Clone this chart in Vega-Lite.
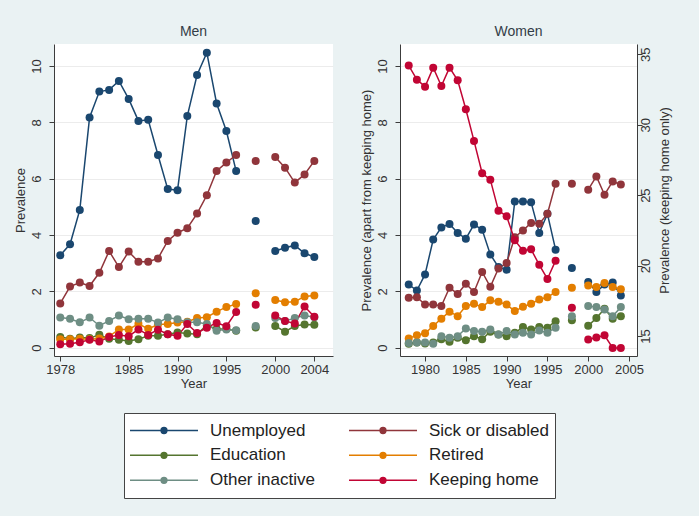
{
  "$schema": "https://vega.github.io/schema/vega-lite/v6.json",
  "background": "#eaf2f3",
  "padding": {"left": 13, "top": 25, "right": 28, "bottom": 20},
  "config": {
    "font": "Liberation Sans",
    "view": {"fill": "white", "stroke": null},
    "axis": {
      "domainColor": "#3c3c3c", "tickColor": "#3c3c3c", "tickSize": 5, "domainWidth": 1, "tickWidth": 1,
      "labelFontSize": 13, "titleFontSize": 13, "labelColor": "#333333", "titleColor": "#333333",
      "titleFontWeight": "normal", "gridColor": "#ececec", "gridWidth": 1,
      "labelFont": "Liberation Sans", "titleFont": "Liberation Sans"
    },
    "axisX": {"grid": false, "labelPadding": 2, "titlePadding": 1, "labelFlush": false},
    "axisY": {"grid": true, "labelAngle": -90, "labelAlign": "center", "labelPadding": 6, "titlePadding": 3},
    "title": {"fontSize": 14, "font": "Liberation Sans", "fontWeight": "normal", "color": "#333d47", "offset": 5},
    "legend": {"labelFont": "Liberation Sans"}
  },
  "datasets": {
    "men": [
      {"year": 1978, "Unemployed": 3.28, "Sick or disabled": 1.57, "Education": 0.38, "Retired": 0.30, "Other inactive": 1.07, "Keeping home": 0.12},
      {"year": 1979, "Unemployed": 3.67, "Sick or disabled": 2.17, "Education": 0.32, "Retired": 0.30, "Other inactive": 1.03, "Keeping home": 0.14},
      {"year": 1980, "Unemployed": 4.89, "Sick or disabled": 2.31, "Education": 0.36, "Retired": 0.32, "Other inactive": 0.90, "Keeping home": 0.19},
      {"year": 1981, "Unemployed": 8.17, "Sick or disabled": 2.19, "Education": 0.34, "Retired": 0.30, "Other inactive": 1.07, "Keeping home": 0.28},
      {"year": 1982, "Unemployed": 9.09, "Sick or disabled": 2.66, "Education": 0.46, "Retired": 0.33, "Other inactive": 0.78, "Keeping home": 0.22},
      {"year": 1983, "Unemployed": 9.15, "Sick or disabled": 3.43, "Education": 0.32, "Retired": 0.40, "Other inactive": 0.95, "Keeping home": 0.38},
      {"year": 1984, "Unemployed": 9.47, "Sick or disabled": 2.86, "Education": 0.28, "Retired": 0.65, "Other inactive": 1.14, "Keeping home": 0.45},
      {"year": 1985, "Unemployed": 8.83, "Sick or disabled": 3.41, "Education": 0.24, "Retired": 0.65, "Other inactive": 1.01, "Keeping home": 0.41},
      {"year": 1986, "Unemployed": 8.05, "Sick or disabled": 3.05, "Education": 0.30, "Retired": 0.85, "Other inactive": 1.03, "Keeping home": 0.65},
      {"year": 1987, "Unemployed": 8.09, "Sick or disabled": 3.05, "Education": 0.42, "Retired": 0.67, "Other inactive": 1.03, "Keeping home": 0.45},
      {"year": 1988, "Unemployed": 6.84, "Sick or disabled": 3.17, "Education": 0.42, "Retired": 0.82, "Other inactive": 0.89, "Keeping home": 0.64},
      {"year": 1989, "Unemployed": 5.63, "Sick or disabled": 3.79, "Education": 0.48, "Retired": 0.84, "Other inactive": 1.07, "Keeping home": 0.48},
      {"year": 1990, "Unemployed": 5.59, "Sick or disabled": 4.08, "Education": 0.54, "Retired": 0.89, "Other inactive": 1.01, "Keeping home": 0.42},
      {"year": 1991, "Unemployed": 8.22, "Sick or disabled": 4.24, "Education": 0.50, "Retired": 0.92, "Other inactive": 0.90, "Keeping home": 0.84},
      {"year": 1992, "Unemployed": 9.68, "Sick or disabled": 4.76, "Education": 0.48, "Retired": 1.05, "Other inactive": 0.90, "Keeping home": 0.52},
      {"year": 1993, "Unemployed": 10.47, "Sick or disabled": 5.41, "Education": 0.80, "Retired": 1.08, "Other inactive": 0.84, "Keeping home": 0.71},
      {"year": 1994, "Unemployed": 8.67, "Sick or disabled": 6.27, "Education": 0.66, "Retired": 1.28, "Other inactive": 0.60, "Keeping home": 0.88},
      {"year": 1995, "Unemployed": 7.69, "Sick or disabled": 6.57, "Education": 0.66, "Retired": 1.44, "Other inactive": 0.65, "Keeping home": 0.76},
      {"year": 1996, "Unemployed": 6.27, "Sick or disabled": 6.84, "Education": 0.60, "Retired": 1.55, "Other inactive": 0.62, "Keeping home": 1.27},
      {"year": 1997, "Unemployed": null, "Sick or disabled": null, "Education": null, "Retired": null, "Other inactive": null, "Keeping home": null},
      {"year": 1998, "Unemployed": 4.50, "Sick or disabled": 6.63, "Education": 0.72, "Retired": 1.93, "Other inactive": 0.77, "Keeping home": 1.52},
      {"year": 1999, "Unemployed": null, "Sick or disabled": null, "Education": null, "Retired": null, "Other inactive": null, "Keeping home": null},
      {"year": 2000, "Unemployed": 3.43, "Sick or disabled": 6.77, "Education": 0.77, "Retired": 1.69, "Other inactive": 1.05, "Keeping home": 1.14},
      {"year": 2001, "Unemployed": 3.55, "Sick or disabled": 6.39, "Education": 0.57, "Retired": 1.61, "Other inactive": 0.95, "Keeping home": 0.95},
      {"year": 2002, "Unemployed": 3.63, "Sick or disabled": 5.86, "Education": 0.77, "Retired": 1.63, "Other inactive": 1.05, "Keeping home": 0.86},
      {"year": 2003, "Unemployed": 3.35, "Sick or disabled": 6.15, "Education": 0.82, "Retired": 1.82, "Other inactive": 1.14, "Keeping home": 1.46},
      {"year": 2004, "Unemployed": 3.22, "Sick or disabled": 6.63, "Education": 0.81, "Retired": 1.85, "Other inactive": 1.08, "Keeping home": 1.10}
    ],
    "women": [
      {"year": 1978, "Unemployed": 2.24, "Sick or disabled": 1.77, "Education": 0.14, "Retired": 0.33, "Other inactive": 0.17, "Keeping home": 34.2},
      {"year": 1979, "Unemployed": 2.03, "Sick or disabled": 1.79, "Education": 0.18, "Retired": 0.44, "Other inactive": 0.18, "Keeping home": 33.2},
      {"year": 1980, "Unemployed": 2.60, "Sick or disabled": 1.53, "Education": 0.15, "Retired": 0.51, "Other inactive": 0.18, "Keeping home": 32.7},
      {"year": 1981, "Unemployed": 3.84, "Sick or disabled": 1.53, "Education": 0.18, "Retired": 0.77, "Other inactive": 0.14, "Keeping home": 34.05},
      {"year": 1982, "Unemployed": 4.27, "Sick or disabled": 1.48, "Education": 0.30, "Retired": 1.03, "Other inactive": 0.41, "Keeping home": 32.75},
      {"year": 1983, "Unemployed": 4.39, "Sick or disabled": 2.13, "Education": 0.21, "Retired": 1.28, "Other inactive": 0.35, "Keeping home": 34.05},
      {"year": 1984, "Unemployed": 4.07, "Sick or disabled": 1.91, "Education": 0.35, "Retired": 1.12, "Other inactive": 0.41, "Keeping home": 33.15},
      {"year": 1985, "Unemployed": 3.87, "Sick or disabled": 2.27, "Education": 0.26, "Retired": 1.48, "Other inactive": 0.68, "Keeping home": 31.1},
      {"year": 1986, "Unemployed": 4.37, "Sick or disabled": 1.98, "Education": 0.41, "Retired": 1.56, "Other inactive": 0.59, "Keeping home": 28.85},
      {"year": 1987, "Unemployed": 4.19, "Sick or disabled": 2.69, "Education": 0.30, "Retired": 1.44, "Other inactive": 0.57, "Keeping home": 26.55},
      {"year": 1988, "Unemployed": 3.31, "Sick or disabled": 2.16, "Education": 0.57, "Retired": 1.68, "Other inactive": 0.65, "Keeping home": 26.1},
      {"year": 1989, "Unemployed": 2.86, "Sick or disabled": 2.81, "Education": 0.47, "Retired": 1.63, "Other inactive": 0.47, "Keeping home": 23.9},
      {"year": 1990, "Unemployed": 2.77, "Sick or disabled": 3.01, "Education": 0.41, "Retired": 1.53, "Other inactive": 0.59, "Keeping home": 23.5},
      {"year": 1991, "Unemployed": 5.19, "Sick or disabled": 3.92, "Education": 0.53, "Retired": 1.30, "Other inactive": 0.47, "Keeping home": 21.8},
      {"year": 1992, "Unemployed": 5.19, "Sick or disabled": 4.16, "Education": 0.73, "Retired": 1.45, "Other inactive": 0.53, "Keeping home": 21.05},
      {"year": 1993, "Unemployed": 5.16, "Sick or disabled": 4.43, "Education": 0.65, "Retired": 1.56, "Other inactive": 0.47, "Keeping home": 21.15},
      {"year": 1994, "Unemployed": 4.07, "Sick or disabled": 4.40, "Education": 0.73, "Retired": 1.71, "Other inactive": 0.61, "Keeping home": 20.05},
      {"year": 1995, "Unemployed": 4.75, "Sick or disabled": 4.75, "Education": 0.71, "Retired": 1.79, "Other inactive": 0.53, "Keeping home": 19.05},
      {"year": 1996, "Unemployed": 3.48, "Sick or disabled": 5.82, "Education": 0.94, "Retired": 1.98, "Other inactive": 0.71, "Keeping home": 20.35},
      {"year": 1997, "Unemployed": null, "Sick or disabled": null, "Education": null, "Retired": null, "Other inactive": null, "Keeping home": null},
      {"year": 1998, "Unemployed": 2.83, "Sick or disabled": 5.82, "Education": 0.97, "Retired": 2.13, "Other inactive": 1.12, "Keeping home": 17.0},
      {"year": 1999, "Unemployed": null, "Sick or disabled": null, "Education": null, "Retired": null, "Other inactive": null, "Keeping home": null},
      {"year": 2000, "Unemployed": 2.33, "Sick or disabled": 5.61, "Education": 0.78, "Retired": 2.21, "Other inactive": 1.48, "Keeping home": 14.75},
      {"year": 2001, "Unemployed": 1.98, "Sick or disabled": 6.08, "Education": 1.05, "Retired": 2.15, "Other inactive": 1.44, "Keeping home": 14.9},
      {"year": 2002, "Unemployed": 2.24, "Sick or disabled": 5.43, "Education": 1.38, "Retired": 2.30, "Other inactive": 1.36, "Keeping home": 15.05},
      {"year": 2003, "Unemployed": 2.31, "Sick or disabled": 5.90, "Education": 1.03, "Retired": 2.15, "Other inactive": 1.12, "Keeping home": 14.15},
      {"year": 2004, "Unemployed": 1.85, "Sick or disabled": 5.79, "Education": 1.12, "Retired": 2.07, "Other inactive": 1.44, "Keeping home": 14.15}
    ]
  },
  "spacing": 26,
  "resolve": {"scale": {"color": "shared"}},
  "hconcat": [
    {
      "width": 279,
      "height": 312,
      "title": "Men",
      "data": {"name": "men"},
      "transform": [{"fold": ["Unemployed", "Sick or disabled", "Education", "Retired", "Other inactive", "Keeping home"], "as": ["series", "value"]}],
      "encoding": {
        "x": {"field": "year", "type": "quantitative", "scale": {"domain": [1977.36, 2005.91], "nice": false, "zero": false}, "axis": {"values": [1978, 1985, 1990, 1995, 2000, 2004], "format": "d", "title": "Year"}},
        "y": {"field": "value", "type": "quantitative", "scale": {"domain": [-0.295, 10.78], "nice": false, "zero": false}, "axis": {"values": [0, 2, 4, 6, 8, 10], "title": "Prevalence", "labelBaseline": "bottom"}},
        "color": {
          "field": "series", "type": "nominal",
          "scale": {"domain": ["Unemployed", "Education", "Other inactive", "Sick or disabled", "Retired", "Keeping home"], "range": ["#1a476f", "#55752f", "#6e8e84", "#90353b", "#e37e00", "#c10534"]},
          "legend": {
            "orient": "none", "legendX": 70, "legendY": 369, "columns": 2, "title": null,
            "symbolType": "M-1,0L1,0M-0.085,0A0.085,0.085,0,1,1,0.085,0A0.085,0.085,0,1,1,-0.085,0Z",
            "symbolSize": 4624, "symbolStrokeWidth": 1.5, "clipHeight": 24.7, "rowPadding": 0,
            "labelFontSize": 17, "labelColor": "#222222", "labelOffset": 11, "columnPadding": 33,
            "fillColor": "white", "strokeColor": "#444444", "padding": 5,
            "symbolOpacity": 1
          }
        }
      },
      "layer": [
        {"mark": {"type": "line", "strokeWidth": 1.5, "invalid": "break-paths-show-domains"}},
        {"mark": {"type": "circle", "size": 64, "opacity": 1, "invalid": "filter"}}
      ]
    },
    {
      "width": 237,
      "height": 312,
      "title": "Women",
      "data": {"name": "women"},
      "transform": [{"fold": ["Unemployed", "Sick or disabled", "Education", "Retired", "Other inactive", "Keeping home"], "as": ["series", "value"]}],
      "encoding": {
        "x": {"field": "year", "type": "quantitative", "scale": {"domain": [1976.93, 2005.98], "nice": false, "zero": false}, "axis": {"values": [1980, 1985, 1990, 1995, 2000, 2005], "format": "d", "title": "Year"}},
        "color": {
          "field": "series", "type": "nominal",
          "scale": {"domain": ["Unemployed", "Education", "Other inactive", "Sick or disabled", "Retired", "Keeping home"], "range": ["#1a476f", "#55752f", "#6e8e84", "#90353b", "#e37e00", "#c10534"]},
          "legend": {
            "orient": "none", "legendX": 70, "legendY": 369, "columns": 2, "title": null,
            "symbolType": "M-1,0L1,0M-0.085,0A0.085,0.085,0,1,1,0.085,0A0.085,0.085,0,1,1,-0.085,0Z",
            "symbolSize": 4624, "symbolStrokeWidth": 1.5, "clipHeight": 24.7, "rowPadding": 0,
            "labelFontSize": 17, "labelColor": "#222222", "labelOffset": 11, "columnPadding": 33,
            "fillColor": "white", "strokeColor": "#444444", "padding": 5,
            "symbolOpacity": 1
          }
        }
      },
      "layer": [
        {
          "transform": [{"filter": "datum.series !== 'Keeping home'"}],
          "encoding": {
            "y": {"field": "value", "type": "quantitative", "scale": {"domain": [-0.295, 10.78], "nice": false, "zero": false}, "axis": {"values": [0, 2, 4, 6, 8, 10], "title": "Prevalence (apart from keeping home)", "labelBaseline": "bottom"}}
          },
          "layer": [
            {"mark": {"type": "line", "strokeWidth": 1.5, "invalid": "break-paths-show-domains"}},
            {"mark": {"type": "circle", "size": 64, "opacity": 1, "invalid": "filter"}}
          ]
        },
        {
          "transform": [{"filter": "datum.series === 'Keeping home'"}],
          "encoding": {
            "y": {"field": "value", "type": "quantitative", "scale": {"domain": [13.58, 35.73], "nice": false, "zero": false}, "axis": {"orient": "right", "values": [15, 20, 25, 30, 35], "title": "Prevalence (keeping home only)", "grid": false, "labelBaseline": "top", "labelPadding": -3, "titleAngle": -90, "titleBaseline": "top", "titlePadding": 6}}
          },
          "layer": [
            {"mark": {"type": "line", "strokeWidth": 1.5, "invalid": "break-paths-show-domains"}},
            {"mark": {"type": "circle", "size": 64, "opacity": 1, "invalid": "filter"}}
          ]
        }
      ],
      "resolve": {"scale": {"y": "independent"}}
    }
  ]
}
